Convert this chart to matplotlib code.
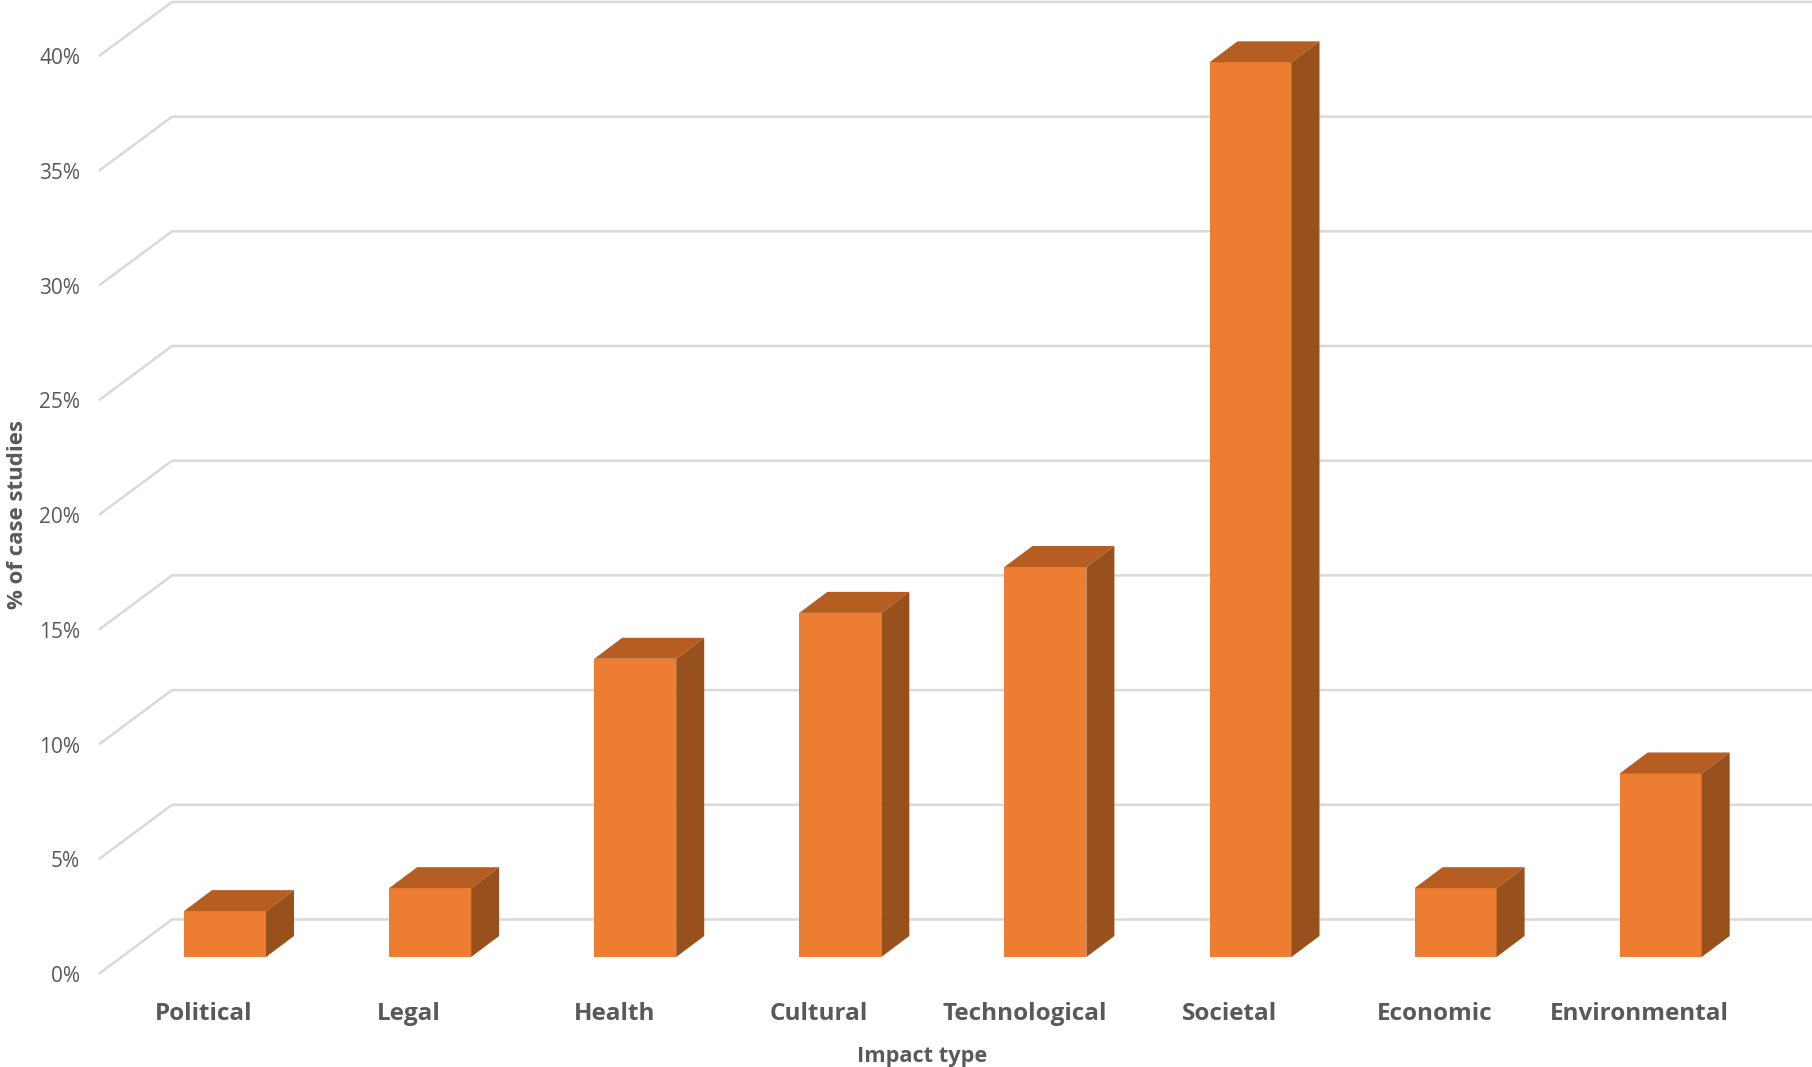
import matplotlib
matplotlib.use('Agg')
import matplotlib.pyplot as plt
from matplotlib.patches import Polygon

categories = ['Political', 'Legal', 'Health', 'Cultural', 'Technological',
              'Societal', 'Economic', 'Environmental']
values = [2, 3, 13, 15, 17, 39, 3, 8]
y_ticks = [0, 5, 10, 15, 20, 25, 30, 35, 40]
y_tick_labels = ['0%', '5%', '10%', '15%', '20%', '25%', '30%', '35%', '40%']

FRONT = '#ED7D31'
TOP = '#B65D21'
SIDE = '#98501C'
GRID = '#D9D9D9'
TEXT = '#595959'

# pixel sizes of the layout, one category = 205.1 px, one percent = 22.94 px
W, H = 1812, 1067
STEP = 205.1
UNIT = 22.94
X0 = 225.0
Y0 = 957.0


def px_x(p):
    return (p - X0) / STEP


def px_y(p):
    return (Y0 - p) / UNIT


def draw_bar(ax, i, value):
    """one oblique bar: front face plus top and side faces"""
    half = 41 / STEP
    dx = 28 / STEP
    dy = 21 / UNIT
    left, right = i - half, i + half
    ax.bar(i, value, width=2 * half, color=FRONT, zorder=3)
    ax.add_patch(Polygon([(left, value), (right, value),
                          (right + dx, value + dy), (left + dx, value + dy)],
                         closed=True, facecolor=TOP, edgecolor='none', zorder=3))
    ax.add_patch(Polygon([(right, 0), (right + dx, dy),
                          (right + dx, value + dy), (right, value)],
                         closed=True, facecolor=SIDE, edgecolor='none', zorder=3))


def main():
    plt.rcParams['font.family'] = ['Open Sans', 'DejaVu Sans']
    fig = plt.figure(figsize=(W / 100, H / 100), dpi=100)
    ax = fig.add_axes([0, 0, 1, 1])
    ax.set_xlim(px_x(0), px_x(W))
    ax.set_ylim(px_y(H), px_y(0))
    ax.axis('off')

    # walls: back lines run across, short diagonals lead to the tick labels
    back_shift = px_y(919.5)
    front_shift = px_y(973)
    label_shift = px_y(976.5)
    for tick, label in zip(y_ticks, y_tick_labels):
        ax.plot([px_x(100), px_x(172), px_x(W)],
                [tick + front_shift, tick + back_shift, tick + back_shift],
                color=GRID, lw=1.8, zorder=1, solid_joinstyle='miter')
        ax.text(px_x(80), tick + label_shift, label, ha='right', va='center',
                fontsize=15, color=TEXT)

    for i, (name, value) in enumerate(zip(categories, values)):
        draw_bar(ax, i, value)
        ax.text(i - 21 / STEP, px_y(1013.5), name, ha='center', va='center',
                fontsize=17.5, fontweight='bold', color=TEXT)

    ax.text(px_x(922), px_y(1056.5), 'Impact type', ha='center', va='center',
            fontsize=15.7, fontweight='bold', color=TEXT)
    ax.text(px_x(17), px_y(514.5), '% of case studies', rotation=90, ha='center',
            va='center', fontsize=16, fontweight='bold', color=TEXT)

    fig.savefig('out.png', dpi=100, facecolor='white')


if __name__ == "__main__":
    main()
